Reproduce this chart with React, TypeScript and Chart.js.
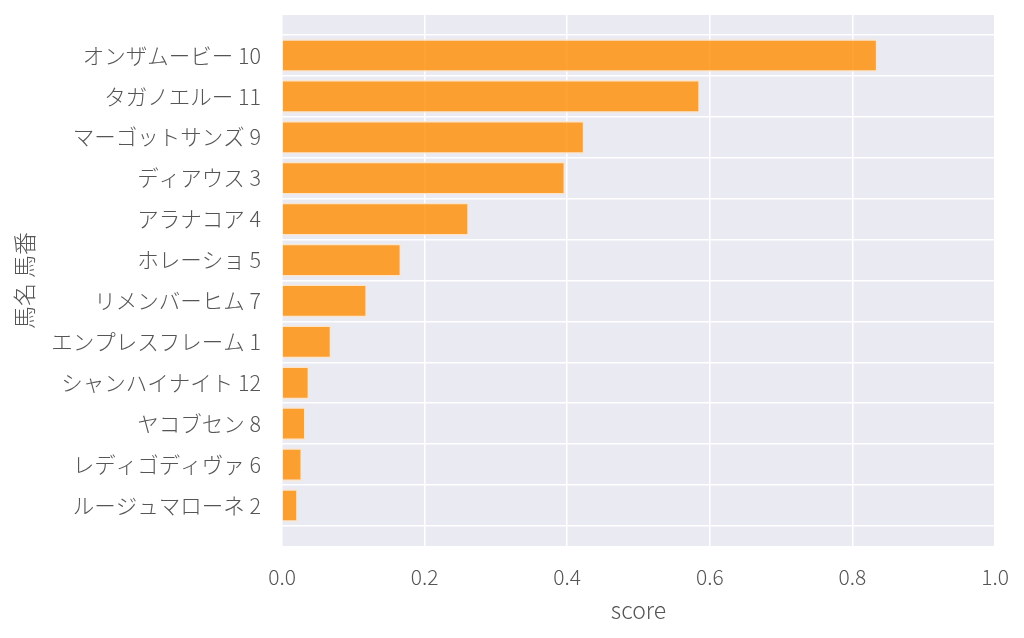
import { useEffect, useRef } from "react"
import { Chart, registerables } from "chart.js"

Chart.register(...registerables)

const horses = [
  "オンザムービー 10",
  "タガノエルー 11",
  "マーゴットサンズ 9",
  "ディアウス 3",
  "アラナコア 4",
  "ホレーショ 5",
  "リメンバーヒム 7",
  "エンプレスフレーム 1",
  "シャンハイナイト 12",
  "ヤコブセン 8",
  "レディゴディヴァ 6",
  "ルージュマローネ 2",
]
const scores = [0.835, 0.586, 0.424, 0.397, 0.262, 0.167, 0.119, 0.069, 0.038, 0.033, 0.028, 0.022]
const xTicks = [0, 0.2, 0.4, 0.6, 0.8, 1.0]

const FONT = "'Noto Sans CJK JP', 'Noto Sans', sans-serif"
const TEXT = "#555555"

const plotBackground = {
  id: "plotBackground",
  beforeDraw(chart: Chart) {
    const { ctx, chartArea } = chart
    ctx.save()
    ctx.fillStyle = "#EAEAF2"
    ctx.fillRect(chartArea.left, chartArea.top, chartArea.right - chartArea.left, chartArea.bottom - chartArea.top)
    ctx.restore()
  },
}

export default function App() {
  const chartRef = useRef<HTMLCanvasElement>(null)
  const chartInstance = useRef<Chart | null>(null)

  useEffect(() => {
    document.body.style.margin = "0"
    if (!chartRef.current) return
    if (chartInstance.current) chartInstance.current.destroy()
    const ctx = chartRef.current.getContext("2d")
    if (!ctx) return

    chartInstance.current = new Chart(ctx, {
      type: "bar",
      data: {
        datasets: [
          {
            data: scores.map((v, i) => ({ x: v, y: i })),
            backgroundColor: "rgba(255, 140, 0, 0.8)",
            borderColor: "#FBE6CC",
            borderWidth: 1.5,
            barPercentage: 0.8,
            categoryPercentage: 1.0,
          },
        ],
      },
      options: {
        indexAxis: "y",
        animation: false,
        responsive: true,
        maintainAspectRatio: false,
        layout: { padding: { top: 15, right: 29, left: 0, bottom: 0 } },
        plugins: {
          legend: { display: false },
          tooltip: { enabled: false },
        },
        scales: {
          x: {
            type: "linear",
            min: 0,
            max: 1,
            afterBuildTicks: (scale: any) => {
              scale.ticks = xTicks.map((v) => ({ value: v }))
            },
            afterFit: (scale: any) => {
              scale.height = 92
              scale.paddingLeft = 0
              scale.paddingRight = 0
            },
            grid: { color: "#ffffff", lineWidth: 1.5, drawTicks: false },
            border: { display: false },
            ticks: {
              padding: 18,
              color: TEXT,
              font: { family: FONT, size: 21, weight: 300 },
              callback: (v: any) => Number(v).toFixed(1),
            },
            title: {
              display: true,
              text: "score",
              color: TEXT,
              padding: { top: 0, bottom: 13.5 },
              font: { family: FONT, size: 23, weight: 300 },
            },
          },
          y: {
            type: "linear",
            reverse: true,
            offset: false,
            min: -0.99,
            max: 11.99,
            afterBuildTicks: (scale: any) => {
              scale.ticks = horses.map((_, i) => ({ value: i }))
            },
            afterFit: (scale: any) => {
              scale.width = 282
              scale.paddingTop = 0
              scale.paddingBottom = 0
            },
            grid: { color: "#ffffff", lineWidth: 1.5, drawTicks: false },
            border: { display: false },
            ticks: {
              padding: 21,
              color: TEXT,
              font: { family: FONT, size: 21.5, weight: 300 },
              callback: (v: any) => horses[Number(v)] ?? "",
            },
            title: {
              display: true,
              text: "馬名 馬番",
              color: TEXT,
              padding: { top: 10, bottom: 0 },
              font: { family: FONT, size: 23, weight: 300 },
            },
          },
        },
      },
      plugins: [plotBackground],
    })

    return () => {
      if (chartInstance.current) {
        chartInstance.current.destroy()
        chartInstance.current = null
      }
    }
  }, [])

  return (
    <div style={{ width: "1024px", height: "638px", position: "relative" }}>
      <canvas ref={chartRef} />
    </div>
  )
}
